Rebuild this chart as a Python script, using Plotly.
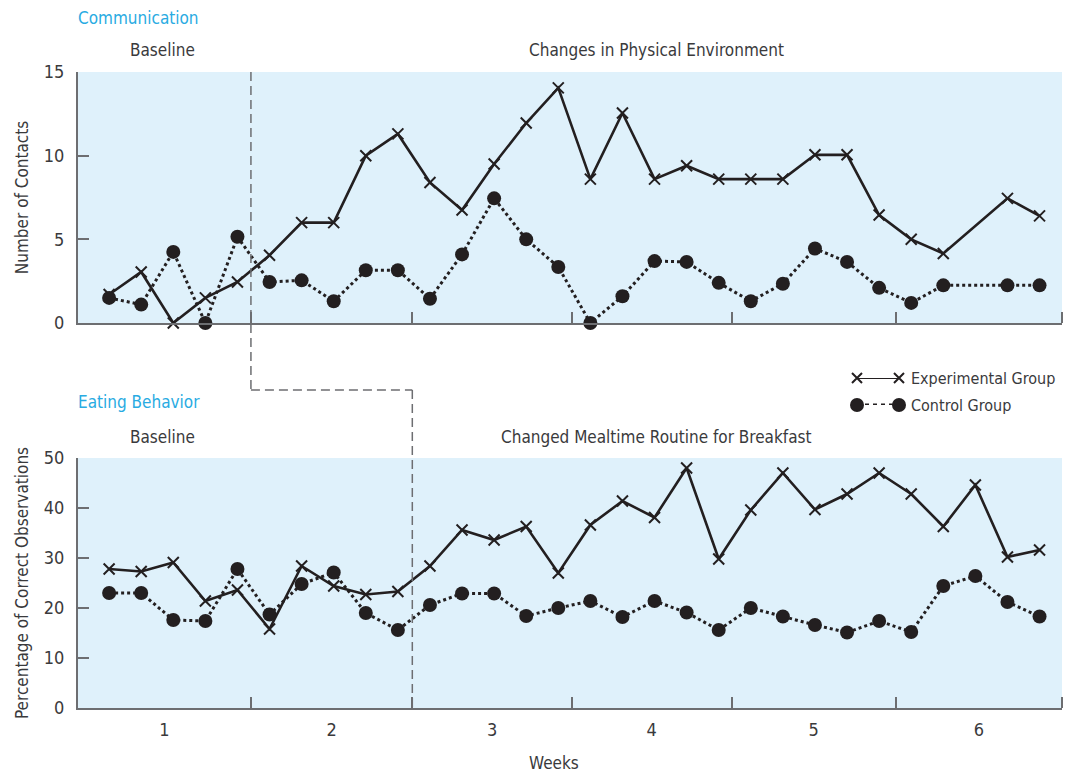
import plotly.graph_objects as go

# page places the figure 8px in from the top-left corner
OFF = 8
W, H = 1072 - OFF, 775 - OFF

# ---------------- data ----------------
days = list(range(30))
week_labels = ["1", "2", "3", "4", "5", "6"]

# Communication (number of contacts); None = no observation that day
comm_exp = [1.7, 3.05, 0.0, 1.5, 2.45, 4.05, 6.0, 6.0, 10.0, 11.3,
            8.4, 6.75, 9.5, 11.95, 14.05, 8.6, 12.55, 8.6, 9.4, 8.6,
            8.6, 8.6, 10.05, 10.05, 6.45, 5.0, 4.15, None, 7.45, 6.4]
comm_ctrl = [1.5, 1.1, 4.25, 0.0, 5.15, 2.45, 2.55, 1.3, 3.15, 3.15,
             1.45, 4.1, 7.45, 5.0, 3.35, 0.0, 1.6, 3.7, 3.65, 2.4,
             1.3, 2.35, 4.45, 3.65, 2.1, 1.2, 2.25, None, 2.25, 2.25]

# Eating behaviour (percentage of correct observations)
eat_exp = [27.8, 27.3, 29.1, 21.4, 23.6, 15.8, 28.4, 24.4, 22.7, 23.3,
           28.4, 35.6, 33.6, 36.3, 27.0, 36.6, 41.4, 38.1, 48.0, 29.8,
           39.6, 47.0, 39.7, 42.8, 47.0, 42.8, 36.3, 44.6, 30.2, 31.6]
eat_ctrl = [23.0, 23.0, 17.6, 17.4, 27.8, 18.7, 24.8, 27.1, 19.0, 15.6,
            20.6, 22.9, 22.9, 18.4, 20.0, 21.4, 18.2, 21.4, 19.1, 15.6,
            20.0, 18.3, 16.6, 15.1, 17.4, 15.2, 24.4, 26.4, 21.2, 18.3]

series_names = ["Experimental Group", "Control Group"]

# ---------------- layout helpers (screen pixels -> paper fractions) ----------------
def px_x(p):
    return (p - OFF) / W

def px_y(p):
    return (H - (p - OFF)) / H

FONT = "DejaVu Sans Condensed, Roboto, sans-serif"
FS = 17
TFS = 18
INK = "#231f20"
TXT = "#3a3a3c"
AXC = "#6d6e71"
BG = "#dff1fb"
CYAN = "#29abe2"

x_range = [-0.97, 29.7]
week_bounds = [4.42, 9.45, 14.42, 19.4, 24.52, 29.7]
edges = [x_range[0]] + week_bounds
week_centers = [(edges[i] + edges[i + 1]) / 2 for i in range(6)]

xdom = [px_x(78), px_x(1062)]
top_dom = [px_y(323), px_y(72)]
bot_dom = [px_y(708), px_y(458)]

fig = go.Figure()

def add_pair(xa, ya, exp, ctrl):
    fig.add_trace(go.Scatter(
        x=days, y=exp, xaxis=xa, yaxis=ya, mode="lines+markers",
        name=series_names[0], showlegend=False, connectgaps=True,
        line=dict(color=INK, width=2.6),
        marker=dict(symbol="x-thin", size=11, color=INK,
                    line=dict(color=INK, width=2)),
        cliponaxis=False))
    fig.add_trace(go.Scatter(
        x=days, y=ctrl, xaxis=xa, yaxis=ya, mode="lines+markers",
        name=series_names[1], showlegend=False, connectgaps=True,
        line=dict(color=INK, width=3, dash="3px,3px"),
        marker=dict(symbol="circle", size=14, color=INK),
        cliponaxis=False))

add_pair("x", "y", comm_exp, comm_ctrl)
add_pair("x2", "y2", eat_exp, eat_ctrl)

# legend samples on their own small (invisible) axes
fig.add_trace(go.Scatter(
    x=[0, 1], y=[1, 1], xaxis="x3", yaxis="y3", mode="lines+markers",
    showlegend=False, line=dict(color=INK, width=2),
    marker=dict(symbol="x-thin", size=10, color=INK, line=dict(color=INK, width=2)),
    cliponaxis=False, hoverinfo="skip"))
fig.add_trace(go.Scatter(
    x=[0, 1], y=[0, 0], xaxis="x3", yaxis="y3", mode="lines+markers",
    showlegend=False, line=dict(color=INK, width=3, dash="4px,4px"),
    marker=dict(symbol="circle", size=14, color=INK),
    cliponaxis=False, hoverinfo="skip"))

common_x = dict(
    range=x_range, domain=xdom, showline=True, linecolor=AXC, linewidth=2,
    showgrid=False, zeroline=False, automargin=False, tickmode="array",
    tickvals=week_centers, ticktext=week_labels, ticks="",
    minor=dict(tickmode="array", tickvals=week_bounds, ticks="inside",
               ticklen=11, tickwidth=1.5, tickcolor=AXC),
    tickfont=dict(family=FONT, size=TFS, color=TXT),
)
common_y = dict(
    showline=True, linecolor=AXC, linewidth=2, showgrid=False, zeroline=False,
    automargin=False, ticks="inside", ticklen=11, tickwidth=1.5, tickcolor=AXC,
    tickfont=dict(family=FONT, size=TFS, color=TXT), ticklabelstandoff=8,
)

fig.update_layout(
    width=W, height=H, margin=dict(l=0, r=0, t=0, b=0),
    paper_bgcolor="white", plot_bgcolor="rgba(0,0,0,0)",
    font=dict(family=FONT, size=FS, color=TXT),
    xaxis=dict(common_x, anchor="y", showticklabels=False),
    yaxis=dict(common_y, domain=top_dom, anchor="x", range=[0, 15],
               tickvals=[0, 5, 10, 15],
               title=dict(text="Number of Contacts", standoff=11,
                          font=dict(family=FONT, size=FS, color=TXT))),
    xaxis2=dict(common_x, anchor="y2", showticklabels=True, ticklabelstandoff=4),
    yaxis2=dict(common_y, domain=bot_dom, anchor="x2", range=[0, 50],
                tickvals=[0, 10, 20, 30, 40, 50],
                title=dict(text="Percentage of Correct Observations", standoff=11,
                           font=dict(family=FONT, size=FS, color=TXT))),
    xaxis3=dict(domain=[px_x(857), px_x(899)], range=[0, 1], anchor="y3",
                visible=False, fixedrange=True, automargin=False),
    yaxis3=dict(domain=[px_y(405), px_y(378)], range=[0, 1], anchor="x3",
                visible=False, fixedrange=True, automargin=False),
)

# light-blue panel backgrounds (drawn below the data)
for xr, yr in (("x domain", "y domain"), ("x2 domain", "y2 domain")):
    fig.add_shape(type="rect", xref=xr, yref=yr, x0=0, x1=1, y0=0, y1=1,
                  fillcolor=BG, line=dict(width=0), layer="below")

# phase-change dashed lines
dash_style = dict(color="#6d6e71", width=1.5, dash="9px,5px")
fig.add_shape(type="line", xref="x", yref="paper", x0=week_bounds[0], x1=week_bounds[0],
              y0=top_dom[1], y1=px_y(390), line=dash_style)
fig.add_shape(type="line", xref="x", yref="paper", x0=week_bounds[0], x1=week_bounds[1],
              y0=px_y(390), y1=px_y(390), line=dash_style)
fig.add_shape(type="line", xref="x", yref="paper", x0=week_bounds[1], x1=week_bounds[1],
              y0=px_y(390), y1=bot_dom[0], line=dash_style)

def label(text, xp, yp, color=TXT, anchor="center", size=FS):
    fig.add_annotation(text=text, x=px_x(xp), y=px_y(yp), xref="paper", yref="paper",
                       showarrow=False, xanchor=anchor, yanchor="middle",
                       font=dict(family=FONT, size=size, color=color))

label("Communication", 76, 18, CYAN, "left")
label("Baseline", 162, 50)
label("Changes in Physical Environment", 656, 50)
label("Eating Behavior", 76, 402, CYAN, "left")
label("Baseline", 162, 437)
label("Changed Mealtime Routine for Breakfast", 656, 437)
label("Weeks", 554, 763)
label(series_names[0], 909, 378, TXT, "left", 16)
label(series_names[1], 909, 405, TXT, "left", 16)

fig.write_html("out.html")
